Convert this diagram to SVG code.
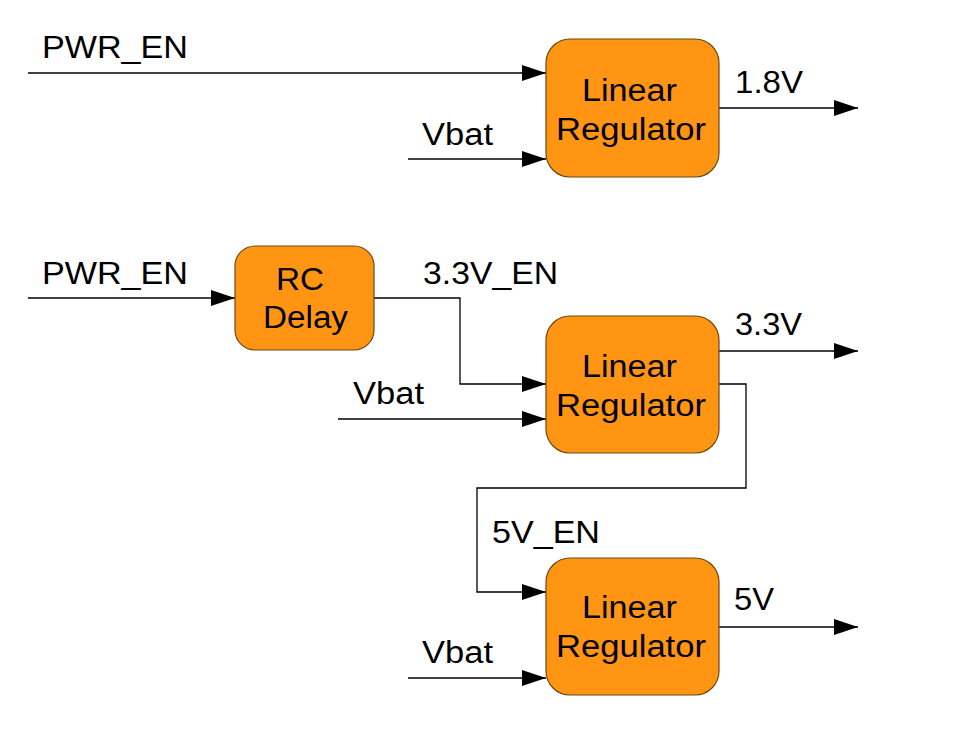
<svg xmlns="http://www.w3.org/2000/svg" width="968" height="734" viewBox="0 0 968 734">
<defs>
<marker id="ah" markerWidth="24" markerHeight="16" refX="24" refY="8" orient="auto" markerUnits="userSpaceOnUse">
<path d="M0,0 L24,8 L0,16 Z" fill="#000"/>
</marker>
<style>
.box{fill:#ff9512;stroke:#6b4a10;stroke-width:1.2}
.t{font-family:"Liberation Sans",Arial,sans-serif;font-size:31px;fill:#000}
.w{fill:none;stroke:#000;stroke-width:1.3;marker-end:url(#ah)}
</style>
</defs>
<rect width="968" height="734" fill="#fff"/>
<g id="connectors">
<path class="w" d="M28,73 H546"/>
<path class="w" d="M408,159 H546"/>
<path class="w" d="M719,108 H858"/>
<path class="w" d="M28,298 H235"/>
<path class="w" d="M374,298 H460 V384 H546"/>
<path class="w" d="M338,419 H546"/>
<path class="w" d="M719,351 H858"/>
<path class="w" d="M719,384 H746 V488 H477 V592 H546"/>
<path class="w" d="M408,678 H546"/>
<path class="w" d="M719,627 H858"/>
</g>
<g id="labels">
<text class="t" x="42" y="58" textLength="146" lengthAdjust="spacingAndGlyphs">PWR_EN</text>
<text class="t" x="422" y="145" textLength="71" lengthAdjust="spacingAndGlyphs">Vbat</text>
<text class="t" x="735" y="93" textLength="68" lengthAdjust="spacingAndGlyphs">1.8V</text>
<text class="t" x="42" y="284" textLength="146" lengthAdjust="spacingAndGlyphs">PWR_EN</text>
<text class="t" x="423" y="284" textLength="135" lengthAdjust="spacingAndGlyphs">3.3V_EN</text>
<text class="t" x="353" y="404" textLength="71" lengthAdjust="spacingAndGlyphs">Vbat</text>
<text class="t" x="735" y="335" textLength="67" lengthAdjust="spacingAndGlyphs">3.3V</text>
<text class="t" x="492" y="543" textLength="108" lengthAdjust="spacingAndGlyphs">5V_EN</text>
<text class="t" x="734" y="610" textLength="40" lengthAdjust="spacingAndGlyphs">5V</text>
<text class="t" x="422" y="663" textLength="71" lengthAdjust="spacingAndGlyphs">Vbat</text>
</g>
<g id="reg18">
<rect class="box" x="546" y="39" width="173" height="138" rx="24"/>
<text class="t" x="582" y="101" textLength="95" lengthAdjust="spacingAndGlyphs">Linear</text>
<text class="t" x="556" y="140" textLength="150" lengthAdjust="spacingAndGlyphs">Regulator</text>
</g>
<g id="rcdelay">
<rect class="box" x="235" y="246" width="139" height="104" rx="20"/>
<text class="t" x="276" y="290" textLength="48" lengthAdjust="spacingAndGlyphs">RC</text>
<text class="t" x="263" y="328" textLength="85" lengthAdjust="spacingAndGlyphs">Delay</text>
</g>
<g id="reg33">
<rect class="box" x="546" y="316" width="173" height="137" rx="24"/>
<text class="t" x="582" y="377" textLength="95" lengthAdjust="spacingAndGlyphs">Linear</text>
<text class="t" x="556" y="416" textLength="150" lengthAdjust="spacingAndGlyphs">Regulator</text>
</g>
<g id="reg5">
<rect class="box" x="546" y="558" width="173" height="137" rx="24"/>
<text class="t" x="582" y="618" textLength="95" lengthAdjust="spacingAndGlyphs">Linear</text>
<text class="t" x="556" y="657" textLength="150" lengthAdjust="spacingAndGlyphs">Regulator</text>
</g>
</svg>
